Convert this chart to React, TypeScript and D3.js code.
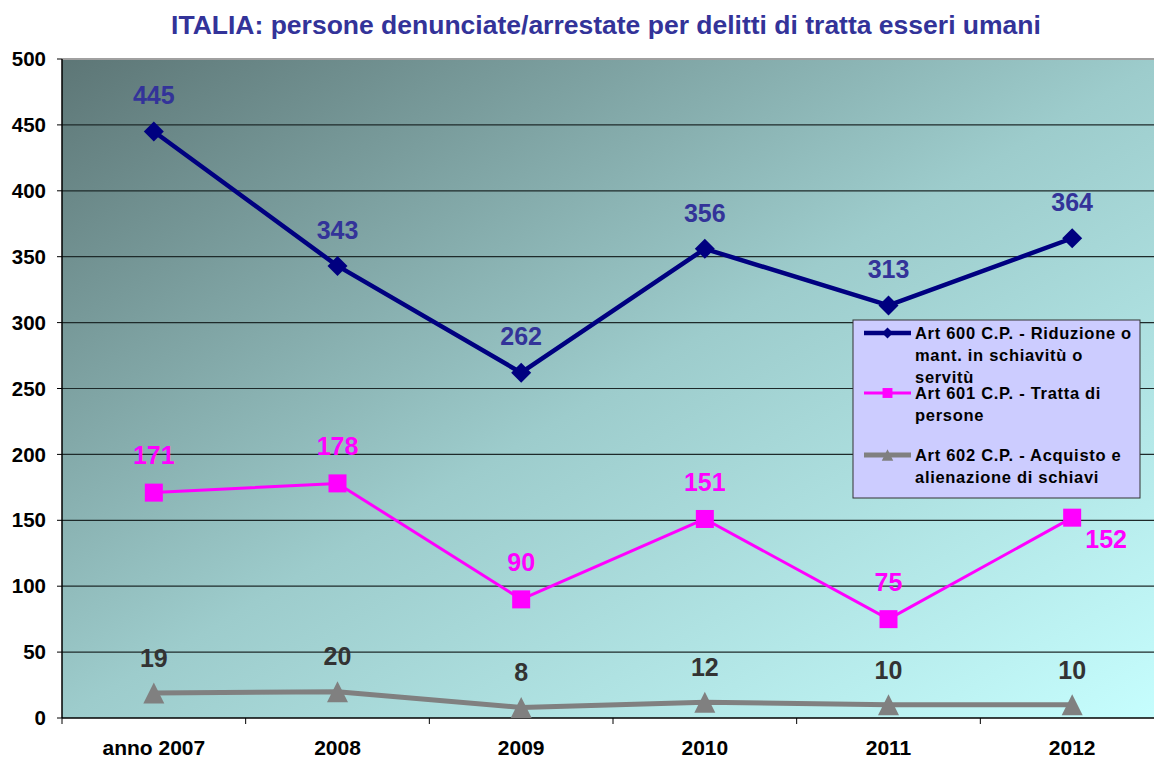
import React from "react";
import * as d3 from "d3";

const categories = ["anno 2007", "2008", "2009", "2010", "2011", "2012"];
const art600 = [445, 343, 262, 356, 313, 364];
const art601 = [171, 178, 90, 151, 75, 152];
const art602 = [19, 20, 8, 12, 10, 10];
const yTicks = [0, 50, 100, 150, 200, 250, 300, 350, 400, 450, 500];
const legendLabels = [
  ["Art 600 C.P. - Riduzione o", "mant. in schiavitù o", "servitù"],
  ["Art 601 C.P. - Tratta di", "persone"],
  ["Art 602 C.P. - Acquisto e", "alienazione di schiavi"],
];

const W = 1154;
const H = 758;
const M = { left: 62, top: 59, right: 1164, bottom: 718 };
const FONT = "'Liberation Sans', Arial, sans-serif";

export default function App() {
  const x = d3.scaleBand<string>().domain(categories).range([M.left, M.right]).paddingInner(0).paddingOuter(0);
  const y = d3.scaleLinear().domain([0, 500]).range([M.bottom, M.top]);
  const cx = (c: string) => (x(c) as number) + x.bandwidth() / 2;
  const line = d3
    .line<number>()
    .x((_, i) => cx(categories[i]))
    .y((d) => y(d));

  const series = [
    { data: art600, color: "#000080", width: 4.5, labelColor: "#333399", marker: "diamond" },
    { data: art601, color: "#ff00ff", width: 3, labelColor: "#ff00ff", marker: "square" },
    { data: art602, color: "#808080", width: 5, labelColor: "#333333", marker: "triangle" },
  ];

  const marker = (type: string, px: number, py: number, color: string, key: string, k = 1) => {
    if (type === "diamond") {
      const s = 10 * k;
      return <path key={key} d={`M${px},${py - s}L${px + s},${py}L${px},${py + s}L${px - s},${py}Z`} fill={color} />;
    }
    if (type === "square") {
      const s = 9 * k;
      return <rect key={key} x={px - s} y={py - s} width={2 * s} height={2 * s} fill={color} />;
    }
    const s = 10.5 * k;
    return <path key={key} d={`M${px},${py - s}L${px + s},${py + s}L${px - s},${py + s}Z`} fill={color} />;
  };

  const labelOffset = (si: number, i: number) => {
    if (si === 1 && i === 5) return { dx: 34, dy: 22 };
    if (si === 0) return { dx: 0, dy: -36 };
    if (si === 1) return { dx: 0, dy: -37 };
    return { dx: 0, dy: -35 };
  };

  const legendX = 853;
  const legendY = 320;
  const legendItemsY = [333, 393, 455];

  return (
    <svg width={W} height={H} style={{ position: "absolute", left: 0, top: 0 }} fontFamily={FONT}>
      <defs>
        <linearGradient id="bg" x1="0" y1="0" x2="1" y2="1">
          <stop offset="0" stopColor="#5d7676" />
          <stop offset="0.5" stopColor="#9dcccc" />
          <stop offset="1" stopColor="#c6fefe" />
        </linearGradient>
      </defs>
      <rect x={0} y={0} width={W} height={H} fill="#fff" />
      <text x={606} y={34} textAnchor="middle" fontSize={26.5} fontWeight="bold" fill="#333399">
        ITALIA: persone denunciate/arrestate per delitti di tratta esseri umani
      </text>
      <rect x={M.left} y={M.top} width={M.right - M.left} height={M.bottom - M.top} fill="url(#bg)" />
      <line x1={M.left} x2={M.right} y1={M.top} y2={M.top} stroke="#a0a0a0" strokeWidth={2} />
      {yTicks.slice(1, -1).map((t) => (
        <line key={t} x1={M.left} x2={M.right} y1={y(t)} y2={y(t)} stroke="#1e2a2a" strokeWidth={1.2} />
      ))}
      {yTicks.map((t) => (
        <g key={"yt" + t}>
          <line x1={M.left - 5} x2={M.left} y1={y(t)} y2={y(t)} stroke="#000" />
          <text x={46} y={y(t)} dy="0.35em" textAnchor="end" fontSize={20.5} fontWeight="bold" fill="#000">
            {t}
          </text>
        </g>
      ))}
      <line x1={M.left} x2={M.left} y1={M.top} y2={M.bottom} stroke="#000" strokeWidth={1.5} />
      <line x1={M.left} x2={M.right} y1={M.bottom} y2={M.bottom} stroke="#000" strokeWidth={1.5} />
      {categories.map((c) => (
        <g key={c}>
          <line x1={x(c) as number} x2={x(c) as number} y1={M.bottom} y2={M.bottom + 6} stroke="#000" />
          <text x={cx(c)} y={755} textAnchor="middle" fontSize={21} fontWeight="bold" fill="#000">
            {c}
          </text>
        </g>
      ))}
      {series.map((s, si) => (
        <g key={"s" + si}>
          <path d={line(s.data) as string} fill="none" stroke={s.color} strokeWidth={s.width} strokeLinejoin="round" />
          {s.data.map((v, i) => marker(s.marker, cx(categories[i]), y(v), s.color, `m${si}-${i}`))}
          {s.data.map((v, i) => {
            const o = labelOffset(si, i);
            return (
              <text
                key={`l${si}-${i}`}
                x={cx(categories[i]) + o.dx}
                y={y(v) + o.dy}
                dy="0.35em"
                textAnchor="middle"
                fontSize={25}
                fontWeight="bold"
                fill={s.labelColor}
              >
                {v}
              </text>
            );
          })}
        </g>
      ))}
      <rect x={legendX} y={legendY} width={287} height={178} fill="#ccccff" stroke="#333" strokeWidth={1} />
      {series.map((s, si) => (
        <g key={"lg" + si}>
          <line x1={864} x2={911} y1={legendItemsY[si]} y2={legendItemsY[si]} stroke={s.color} strokeWidth={s.width} />
          {marker(s.marker, 887.5, legendItemsY[si], s.color, "lm" + si, 0.55)}
          {legendLabels[si].map((t, li) => (
            <text
              key={li}
              x={915}
              y={legendItemsY[si] + li * 22}
              dy="0.35em"
              fontSize={16.5}
              fontWeight="bold"
              letterSpacing={0.7}
              fill="#000"
            >
              {t}
            </text>
          ))}
        </g>
      ))}
    </svg>
  );
}
